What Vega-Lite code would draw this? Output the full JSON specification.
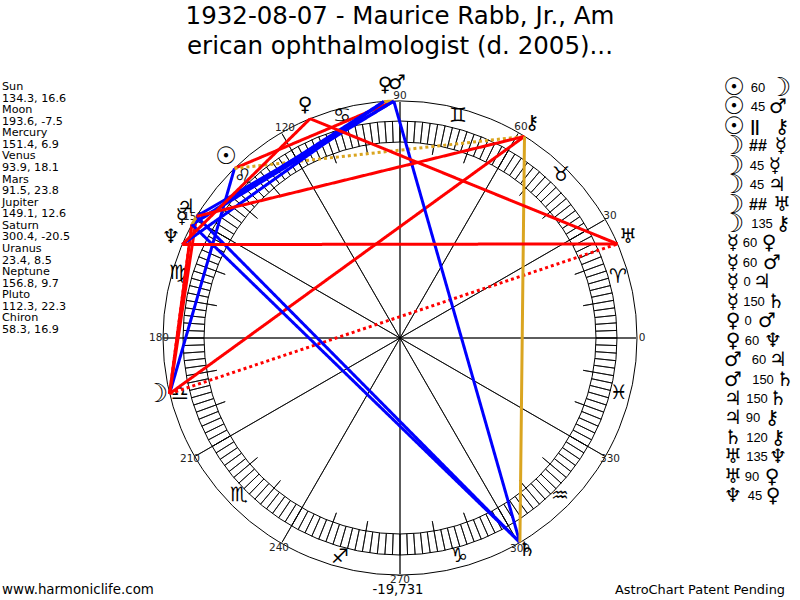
{
  "$schema": "https://vega.github.io/schema/vega-lite/v6.json",
  "width": 800,
  "height": 600,
  "padding": 0,
  "autosize": {"type": "fit", "contains": "padding"},
  "background": "white",
  "config": {"view": {"stroke": null}, "text": {"font": "DejaVu Sans", "color": "black"}},
  "datasets": {
    "planets": [
      {"name": "Sun", "glyph": "☉", "x": -165.5, "y": 169.6, "gx": -174, "gy": 181},
      {"name": "Moon", "glyph": "☽", "x": -230.4, "y": -55.7, "gx": -243, "gy": -56},
      {"name": "Mercury", "glyph": "☿", "x": -208.1, "y": 113.5, "gx": -218, "gy": 121},
      {"name": "Venus", "glyph": "♀", "x": -16.1, "y": 236.5, "gx": -15, "gy": 253},
      {"name": "Mars", "glyph": "♂", "x": -6.2, "y": 236.9, "gx": -3, "gy": 255},
      {"name": "Jupiter", "glyph": "♃", "x": -203.4, "y": 121.7, "gx": -214, "gy": 131},
      {"name": "Saturn", "glyph": "♄", "x": 119.9, "y": -204.4, "gx": 127, "gy": -212},
      {"name": "Uranus", "glyph": "♅", "x": 217.5, "y": 94.1, "gx": 228, "gy": 101},
      {"name": "Neptune", "glyph": "♆", "x": -217.8, "y": 93.4, "gx": -229, "gy": 101},
      {"name": "Pluto", "glyph": "♀", "x": -89.9, "y": 219.3, "gx": -95, "gy": 233},
      {"name": "Chiron", "glyph": "⚷", "x": 124.5, "y": 201.6, "gx": 132, "gy": 215}
    ],
    "aspects": [
      {"from": "Sun", "to": "Moon", "aspect": "60", "a": "☉", "b": "☽", "y": 250, "ax": 334, "tx": 358, "bx": 380},
      {"from": "Sun", "to": "Mars", "aspect": "45", "a": "☉", "b": "♂", "y": 230.6, "ax": 334, "tx": 358, "bx": 378},
      {"from": "Sun", "to": "Chiron", "aspect": "||", "a": "☉", "b": "⚷", "y": 211.1, "ax": 334, "tx": 355, "bx": 382},
      {"from": "Moon", "to": "Mercury", "aspect": "##", "a": "☽", "b": "☿", "y": 191.7, "ax": 333, "tx": 358, "bx": 381},
      {"from": "Moon", "to": "Mercury", "aspect": "45", "a": "☽", "b": "☿", "y": 172.3, "ax": 333, "tx": 357, "bx": 375},
      {"from": "Moon", "to": "Jupiter", "aspect": "45", "a": "☽", "b": "♃", "y": 152.9, "ax": 333, "tx": 357, "bx": 377},
      {"from": "Moon", "to": "Uranus", "aspect": "##", "a": "☽", "b": "♅", "y": 133.4, "ax": 333, "tx": 358, "bx": 382},
      {"from": "Moon", "to": "Chiron", "aspect": "135", "a": "☽", "b": "⚷", "y": 114, "ax": 333, "tx": 362, "bx": 383},
      {"from": "Mercury", "to": "Venus", "aspect": "60", "a": "☿", "b": "♀", "y": 94.6, "ax": 333, "tx": 350, "bx": 369},
      {"from": "Mercury", "to": "Mars", "aspect": "60", "a": "☿", "b": "♂", "y": 75.1, "ax": 333, "tx": 350, "bx": 372},
      {"from": "Mercury", "to": "Jupiter", "aspect": "0", "a": "☿", "b": "♃", "y": 55.7, "ax": 333, "tx": 347, "bx": 362},
      {"from": "Mercury", "to": "Saturn", "aspect": "150", "a": "☿", "b": "♄", "y": 36.3, "ax": 333, "tx": 354, "bx": 376},
      {"from": "Venus", "to": "Mars", "aspect": "0", "a": "♀", "b": "♂", "y": 16.8, "ax": 333, "tx": 348, "bx": 367},
      {"from": "Venus", "to": "Neptune", "aspect": "60", "a": "♀", "b": "♆", "y": -2.6, "ax": 333, "tx": 352, "bx": 373},
      {"from": "Mars", "to": "Jupiter", "aspect": "60", "a": "♂", "b": "♃", "y": -22, "ax": 333, "tx": 359, "bx": 378},
      {"from": "Mars", "to": "Saturn", "aspect": "150", "a": "♂", "b": "♄", "y": -41.5, "ax": 333, "tx": 363, "bx": 385},
      {"from": "Jupiter", "to": "Saturn", "aspect": "150", "a": "♃", "b": "♄", "y": -60.9, "ax": 333, "tx": 357, "bx": 378},
      {"from": "Jupiter", "to": "Chiron", "aspect": "90", "a": "♃", "b": "⚷", "y": -80.3, "ax": 333, "tx": 353, "bx": 372},
      {"from": "Saturn", "to": "Chiron", "aspect": "120", "a": "♄", "b": "⚷", "y": -99.7, "ax": 333, "tx": 357, "bx": 378},
      {"from": "Uranus", "to": "Neptune", "aspect": "135", "a": "♅", "b": "♆", "y": -119.2, "ax": 333, "tx": 357, "bx": 378},
      {"from": "Uranus", "to": "Pluto", "aspect": "90", "a": "♅", "b": "♀", "y": -138.6, "ax": 333, "tx": 352, "bx": 372},
      {"from": "Neptune", "to": "Pluto", "aspect": "45", "a": "♆", "b": "♀", "y": -158, "ax": 333, "tx": 355, "bx": 373}
    ]
  },
  "layer": [
    {
      "encoding": {
        "x": {"datum": 0, "type": "quantitative", "axis": null, "scale": {"domain": [-400, 400], "nice": false, "zero": false}},
        "y": {"datum": 0, "type": "quantitative", "axis": null, "scale": {"domain": [-262, 338], "nice": false, "zero": false}}
      },
      "layer": [
        {
          "data": {"values": [{"r": 196}, {"r": 217}, {"r": 237}]},
          "mark": {"type": "arc", "filled": false, "stroke": "black", "strokeWidth": 1},
          "encoding": {
            "theta": {"datum": 0, "type": "quantitative", "stack": null, "scale": {"domain": [0, 360], "range": [1.5708, -4.7124]}},
            "theta2": {"datum": 360},
            "radius": {"field": "r", "type": "quantitative", "stack": null, "scale": {"type": "linear", "domain": [0, 400], "range": [0, 400]}}
          }
        },
        {
          "data": {"values": [
            {"lon":0},{"lon":2},{"lon":4},{"lon":6},{"lon":8},{"lon":10},{"lon":12},{"lon":14},{"lon":16},{"lon":18},
            {"lon":20},{"lon":22},{"lon":24},{"lon":26},{"lon":28},{"lon":30},{"lon":32},{"lon":34},{"lon":36},{"lon":38},
            {"lon":40},{"lon":42},{"lon":44},{"lon":46},{"lon":48},{"lon":50},{"lon":52},{"lon":54},{"lon":56},{"lon":58},
            {"lon":60},{"lon":62},{"lon":64},{"lon":66},{"lon":68},{"lon":70},{"lon":72},{"lon":74},{"lon":76},{"lon":78},
            {"lon":80},{"lon":82},{"lon":84},{"lon":86},{"lon":88},{"lon":90},{"lon":92},{"lon":94},{"lon":96},{"lon":98},
            {"lon":100},{"lon":102},{"lon":104},{"lon":106},{"lon":108},{"lon":110},{"lon":112},{"lon":114},{"lon":116},{"lon":118},
            {"lon":120},{"lon":122},{"lon":124},{"lon":126},{"lon":128},{"lon":130},{"lon":132},{"lon":134},{"lon":136},{"lon":138},
            {"lon":140},{"lon":142},{"lon":144},{"lon":146},{"lon":148},{"lon":150},{"lon":152},{"lon":154},{"lon":156},{"lon":158},
            {"lon":160},{"lon":162},{"lon":164},{"lon":166},{"lon":168},{"lon":170},{"lon":172},{"lon":174},{"lon":176},{"lon":178},
            {"lon":180},{"lon":182},{"lon":184},{"lon":186},{"lon":188},{"lon":190},{"lon":192},{"lon":194},{"lon":196},{"lon":198},
            {"lon":200},{"lon":202},{"lon":204},{"lon":206},{"lon":208},{"lon":210},{"lon":212},{"lon":214},{"lon":216},{"lon":218},
            {"lon":220},{"lon":222},{"lon":224},{"lon":226},{"lon":228},{"lon":230},{"lon":232},{"lon":234},{"lon":236},{"lon":238},
            {"lon":240},{"lon":242},{"lon":244},{"lon":246},{"lon":248},{"lon":250},{"lon":252},{"lon":254},{"lon":256},{"lon":258},
            {"lon":260},{"lon":262},{"lon":264},{"lon":266},{"lon":268},{"lon":270},{"lon":272},{"lon":274},{"lon":276},{"lon":278},
            {"lon":280},{"lon":282},{"lon":284},{"lon":286},{"lon":288},{"lon":290},{"lon":292},{"lon":294},{"lon":296},{"lon":298},
            {"lon":300},{"lon":302},{"lon":304},{"lon":306},{"lon":308},{"lon":310},{"lon":312},{"lon":314},{"lon":316},{"lon":318},
            {"lon":320},{"lon":322},{"lon":324},{"lon":326},{"lon":328},{"lon":330},{"lon":332},{"lon":334},{"lon":336},{"lon":338},
            {"lon":340},{"lon":342},{"lon":344},{"lon":346},{"lon":348},{"lon":350},{"lon":352},{"lon":354},{"lon":356},{"lon":358}
          ]},
          "mark": {"type": "arc", "filled": false, "stroke": "black", "strokeWidth": 0.8},
          "encoding": {
            "theta": {"field": "lon", "type": "quantitative", "stack": null},
            "theta2": {"field": "lon"},
            "radius": {"datum": 196, "type": "quantitative", "stack": null},
            "radius2": {"datum": 217}
          }
        },
        {
          "data": {"values": [
            {"lon":10},{"lon":20},{"lon":40},{"lon":50},{"lon":70},{"lon":80},{"lon":100},{"lon":110},{"lon":130},{"lon":140},{"lon":160},{"lon":170},
            {"lon":190},{"lon":200},{"lon":220},{"lon":230},{"lon":250},{"lon":260},{"lon":280},{"lon":290},{"lon":310},{"lon":320},{"lon":340},{"lon":350}
          ]},
          "mark": {"type": "arc", "filled": false, "stroke": "black", "strokeWidth": 0.8},
          "encoding": {
            "theta": {"field": "lon", "type": "quantitative", "stack": null},
            "theta2": {"field": "lon"},
            "radius": {"datum": 186, "type": "quantitative", "stack": null},
            "radius2": {"datum": 196}
          }
        },
        {
          "data": {"values": [
            {"lon":0},{"lon":30},{"lon":60},{"lon":90},{"lon":120},{"lon":150},{"lon":180},{"lon":210},{"lon":240},{"lon":270},{"lon":300},{"lon":330}
          ]},
          "mark": {"type": "arc", "filled": false, "stroke": "black", "strokeWidth": 0.8},
          "encoding": {
            "theta": {"field": "lon", "type": "quantitative", "stack": null},
            "theta2": {"field": "lon"},
            "radius": {"datum": 0, "type": "quantitative", "stack": null},
            "radius2": {"datum": 236}
          }
        }
      ]
    },
    {
      "encoding": {
        "x": {"field": "x", "type": "quantitative", "axis": null, "scale": {"domain": [-400, 400], "nice": false, "zero": false}},
        "y": {"field": "y", "type": "quantitative", "axis": null, "scale": {"domain": [-262, 338], "nice": false, "zero": false}}
      },
      "layer": [
        {
          "data": {"values": [
            {"label": "0", "x": 242, "y": 0},
            {"label": "30", "x": 210, "y": 122},
            {"label": "60", "x": 121, "y": 211},
            {"label": "90", "x": 0, "y": 242},
            {"label": "120", "x": -115, "y": 210},
            {"label": "150", "x": -207, "y": 121},
            {"label": "180", "x": -241, "y": 0},
            {"label": "210", "x": -210, "y": -121},
            {"label": "240", "x": -121, "y": -210},
            {"label": "270", "x": 0, "y": -242},
            {"label": "300", "x": 120, "y": -211},
            {"label": "330", "x": 210, "y": -121}
          ]},
          "mark": {"type": "text", "fontSize": 10.5, "baseline": "middle", "align": "center", "color": "#222"},
          "encoding": {"text": {"field": "label"}}
        },
        {
          "data": {"values": [
            {"sign": "♈", "x": 218, "y": 61},
            {"sign": "♉", "x": 161, "y": 163},
            {"sign": "♊", "x": 58, "y": 222},
            {"sign": "♋", "x": -58, "y": 222},
            {"sign": "♌", "x": -157, "y": 161},
            {"sign": "♍", "x": -222, "y": 65},
            {"sign": "♎", "x": -220, "y": -56},
            {"sign": "♏", "x": -161, "y": -157},
            {"sign": "♐", "x": -60, "y": -219},
            {"sign": "♑", "x": 59, "y": -218},
            {"sign": "♒", "x": 160, "y": -158},
            {"sign": "♓", "x": 219, "y": -55}
          ]},
          "mark": {"type": "text", "fontSize": 20, "baseline": "middle", "align": "center"},
          "encoding": {"text": {"field": "sign"}}
        },
        {
          "data": {"name": "aspects"},
          "transform": [
            {"lookup": "from", "from": {"data": {"name": "planets"}, "key": "name", "fields": ["x", "y"]}, "as": ["x1", "y1"]},
            {"lookup": "to", "from": {"data": {"name": "planets"}, "key": "name", "fields": ["x", "y"]}, "as": ["x2", "y2"]}
          ],
          "mark": {"type": "rule", "strokeWidth": 3},
          "encoding": {
            "x": {"field": "x1", "type": "quantitative"},
            "y": {"field": "y1", "type": "quantitative"},
            "x2": {"field": "x2"},
            "y2": {"field": "y2"},
            "color": {
              "field": "aspect",
              "type": "nominal",
              "legend": null,
              "scale": {
                "domain": ["0", "45", "60", "90", "120", "135", "150", "||", "##"],
                "range": ["#daa520", "#ff0000", "#0000ff", "#ff0000", "#daa520", "#ff0000", "#0000ff", "#daa520", "#ff0000"]
              }
            },
            "strokeDash": {
              "field": "aspect",
              "type": "nominal",
              "legend": null,
              "scale": {
                "domain": ["0", "45", "60", "90", "120", "135", "150", "||", "##"],
                "range": [[1, 0], [1, 0], [1, 0], [1, 0], [1, 0], [1, 0], [1, 0], [3, 3], [3, 3]]
              }
            }
          }
        },
        {
          "data": {"name": "planets"},
          "mark": {"type": "text", "baseline": "middle", "align": "center"},
          "encoding": {
            "x": {"field": "gx", "type": "quantitative"},
            "y": {"field": "gy", "type": "quantitative"},
            "text": {"field": "glyph"},
            "size": {
              "field": "glyph",
              "type": "nominal",
              "legend": null,
              "scale": {
                "type": "ordinal",
                "domain": ["☉", "☽", "☿", "♀", "♂", "♃", "♄", "♅", "♆", "⚷"],
                "range": [24, 26, 20, 20, 20, 20, 20, 20, 20, 20]
              }
            }
          }
        },
        {
          "data": {"values": [
            {"label": "Sun", "x": -398, "y": 251},
            {"label": "134.3, 16.6", "x": -398, "y": 239.4},
            {"label": "Moon", "x": -398, "y": 227.9},
            {"label": "193.6, -7.5", "x": -398, "y": 216.3},
            {"label": "Mercury", "x": -398, "y": 204.7},
            {"label": "151.4, 6.9", "x": -398, "y": 193.2},
            {"label": "Venus", "x": -398, "y": 181.6},
            {"label": "93.9, 18.1", "x": -398, "y": 170},
            {"label": "Mars", "x": -398, "y": 158.4},
            {"label": "91.5, 23.8", "x": -398, "y": 146.9},
            {"label": "Jupiter", "x": -398, "y": 135.3},
            {"label": "149.1, 12.6", "x": -398, "y": 123.7},
            {"label": "Saturn", "x": -398, "y": 112.2},
            {"label": "300.4, -20.5", "x": -398, "y": 100.6},
            {"label": "Uranus", "x": -398, "y": 89},
            {"label": "23.4, 8.5", "x": -398, "y": 77.5},
            {"label": "Neptune", "x": -398, "y": 65.9},
            {"label": "156.8, 9.7", "x": -398, "y": 54.3},
            {"label": "Pluto", "x": -398, "y": 42.7},
            {"label": "112.3, 22.3", "x": -398, "y": 31.2},
            {"label": "Chiron", "x": -398, "y": 19.6},
            {"label": "58.3, 16.9", "x": -398, "y": 8}
          ]},
          "mark": {"type": "text", "fontSize": 11.2, "baseline": "middle", "align": "left"},
          "encoding": {"text": {"field": "label"}}
        },
        {
          "data": {"values": [
            {"label": "1932-08-07 - Maurice Rabb, Jr., Am", "x": 0, "y": 321},
            {"label": "erican ophthalmologist (d. 2005)...", "x": 0, "y": 291}
          ]},
          "mark": {"type": "text", "fontSize": 24.5, "baseline": "middle", "align": "center"},
          "encoding": {"text": {"field": "label"}}
        },
        {
          "data": {"values": [{"label": "www.harmoniclife.com", "x": -398, "y": -252}]},
          "mark": {"type": "text", "fontSize": 13.4, "baseline": "middle", "align": "left"},
          "encoding": {"text": {"field": "label"}}
        },
        {
          "data": {"values": [{"label": "-19,731", "x": -2, "y": -252}]},
          "mark": {"type": "text", "fontSize": 13.2, "baseline": "middle", "align": "center"},
          "encoding": {"text": {"field": "label"}}
        },
        {
          "data": {"values": [{"label": "AstroChart Patent Pending", "x": 385, "y": -252}]},
          "mark": {"type": "text", "fontSize": 12.9, "baseline": "middle", "align": "right"},
          "encoding": {"text": {"field": "label"}}
        },
        {
          "data": {"name": "aspects"},
          "mark": {"type": "text", "baseline": "middle", "align": "center"},
          "encoding": {
            "x": {"field": "ax", "type": "quantitative"},
            "text": {"field": "a"},
            "size": {
              "field": "a",
              "type": "nominal",
              "legend": null,
              "scale": {
                "type": "ordinal",
                "domain": ["☉", "☽", "☿", "♀", "♂", "♃", "♄", "♅", "♆", "⚷"],
                "range": [24, 26, 20, 20, 20, 20, 20, 20, 20, 20]
              }
            }
          }
        },
        {
          "data": {"name": "aspects"},
          "transform": [{"filter": "datum.aspect !== '||' && datum.aspect !== '##'"}],
          "mark": {"type": "text", "font": "Liberation Sans", "fontSize": 13, "baseline": "middle", "align": "center"},
          "encoding": {
            "x": {"field": "tx", "type": "quantitative"},
            "text": {"field": "aspect"}
          }
        },
        {
          "data": {"name": "aspects"},
          "transform": [{"filter": "datum.aspect === '||' || datum.aspect === '##'"}],
          "mark": {"type": "text", "font": "Liberation Sans", "fontSize": 16, "fontWeight": "bold", "baseline": "middle", "align": "center"},
          "encoding": {
            "x": {"field": "tx", "type": "quantitative"},
            "text": {"field": "aspect"}
          }
        },
        {
          "data": {"name": "aspects"},
          "mark": {"type": "text", "baseline": "middle", "align": "center"},
          "encoding": {
            "x": {"field": "bx", "type": "quantitative"},
            "text": {"field": "b"},
            "size": {
              "field": "b",
              "type": "nominal",
              "legend": null,
              "scale": {
                "type": "ordinal",
                "domain": ["☉", "☽", "☿", "♀", "♂", "♃", "♄", "♅", "♆", "⚷"],
                "range": [24, 26, 20, 20, 20, 20, 20, 20, 20, 20]
              }
            }
          }
        }
      ]
    }
  ]
}
